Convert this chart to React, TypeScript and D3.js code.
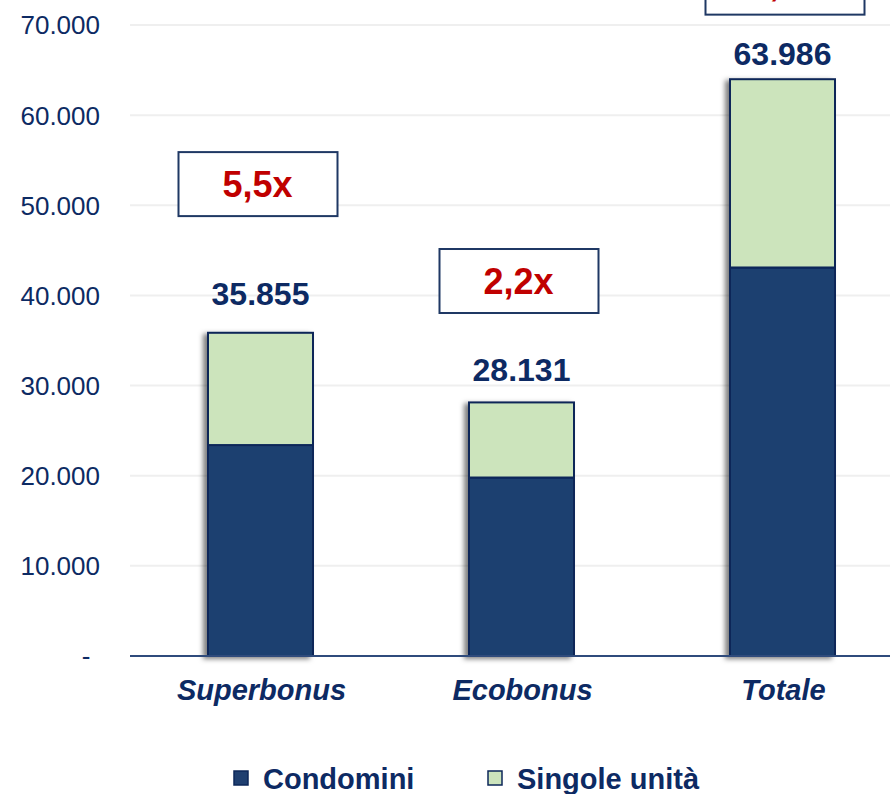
import React from "react";
import * as d3 from "d3";

const categories = ["Superbonus", "Ecobonus", "Totale"];
const condomini = [23400, 19800, 43100];
const singole = [12455, 8331, 20886];
const totalLabels = ["35.855", "28.131", "63.986"];
const labelValueY = [38900, 30500, 65600];
const multipliers = ["5,5x", "2,2x", "3,4x"];
const multiplierValueY = [52350, 41600, 74700];
const yTicks = [0, 10000, 20000, 30000, 40000, 50000, 60000, 70000];
const yTickLabels = ["-", "10.000", "20.000", "30.000", "40.000", "50.000", "60.000", "70.000"];
const seriesNames = ["Condomini", "Singole unità"];

const W = 890;
const H = 794;
const NAVY = "#0D2A63";
const DARK = "#1F3F70";
const GREEN = "#CCE4BC";
const STROKE = "#0C2759";
const RED = "#C00000";
const FONT = "Arial, 'Liberation Sans', sans-serif";
const BOX_SHIFT = [-2, -2, 3];

export default function App() {
  const x = d3.scaleBand<string>().domain(categories).range([130, 913]).paddingInner(0.6).paddingOuter(0.3);
  const y = d3.scaleLinear().domain([0, 70000]).range([656, 25]);
  const bw = 105;
  const cx = (c: string) => (x(c) as number) + x.bandwidth() / 2;

  return (
    <svg width={W} height={H} style={{ position: "absolute", left: 0, top: 0, background: "#fff" }} fontFamily={FONT}>
      <defs>
        <filter id="sh" x="-20%" y="-5%" width="140%" height="110%">
          <feDropShadow dx={-4} dy={2} stdDeviation={2.4} floodColor="#000" floodOpacity={0.5} />
        </filter>
      </defs>
      {yTicks.slice(1).map((t) => (
        <line key={t} x1={130} x2={W} y1={y(t)} y2={y(t)} stroke="#EFEFEF" strokeWidth={2} />
      ))}
      {yTicks.map((t, i) => (
        <text key={"l" + t} x={i === 0 ? 86 : 100} y={y(t)} dy="0.36em" textAnchor={i === 0 ? "middle" : "end"} fontSize={26} fill={NAVY}>
          {yTickLabels[i]}
        </text>
      ))}
      {categories.map((c, i) => {
        const x0 = cx(c) - bw / 2;
        return (
          <g key={c} filter="url(#sh)">
            <rect x={x0} y={y(condomini[i])} width={bw} height={y(0) - y(condomini[i])} fill={DARK} stroke={STROKE} strokeWidth={2} />
            <rect x={x0} y={y(condomini[i] + singole[i])} width={bw} height={y(condomini[i]) - y(condomini[i] + singole[i])} fill={GREEN} stroke={STROKE} strokeWidth={2} />
          </g>
        );
      })}
      <line x1={130} x2={W} y1={y(0)} y2={y(0)} stroke="#2F4B7C" strokeWidth={2} />
      {categories.map((c, i) => (
        <text key={"t" + c} x={cx(c)} y={y(labelValueY[i])} textAnchor="middle" fontSize={32} fontWeight="bold" fill={NAVY}>
          {totalLabels[i]}
        </text>
      ))}
      {categories.map((c, i) => (
        <g key={"m" + c}>
          <rect x={cx(c) - 80 + BOX_SHIFT[i]} y={y(multiplierValueY[i]) - 32} width={159} height={64} fill="#fff" stroke="#1F3864" strokeWidth={2} />
          <text x={cx(c) - 1 + BOX_SHIFT[i]} y={y(multiplierValueY[i])} dy="0.36em" textAnchor="middle" fontSize={36} fontWeight="bold" fill={RED}>
            {multipliers[i]}
          </text>
        </g>
      ))}
      {categories.map((c) => (
        <text key={"c" + c} x={cx(c) + 1} y={700} textAnchor="middle" fontSize={29} fontWeight="bold" fontStyle="italic" fill={NAVY}>
          {c}
        </text>
      ))}
      <g>
        <rect x={234} y={771} width={14} height={14} fill={DARK} stroke={STROKE} strokeWidth={1.5} />
        <text x={263} y={789} fontSize={29} fontWeight="bold" fill={NAVY}>{seriesNames[0]}</text>
        <rect x={488} y={771} width={14} height={14} fill={GREEN} stroke={STROKE} strokeWidth={1.5} />
        <text x={517} y={789} fontSize={29} fontWeight="bold" fill={NAVY}>{seriesNames[1]}</text>
      </g>
    </svg>
  );
}
